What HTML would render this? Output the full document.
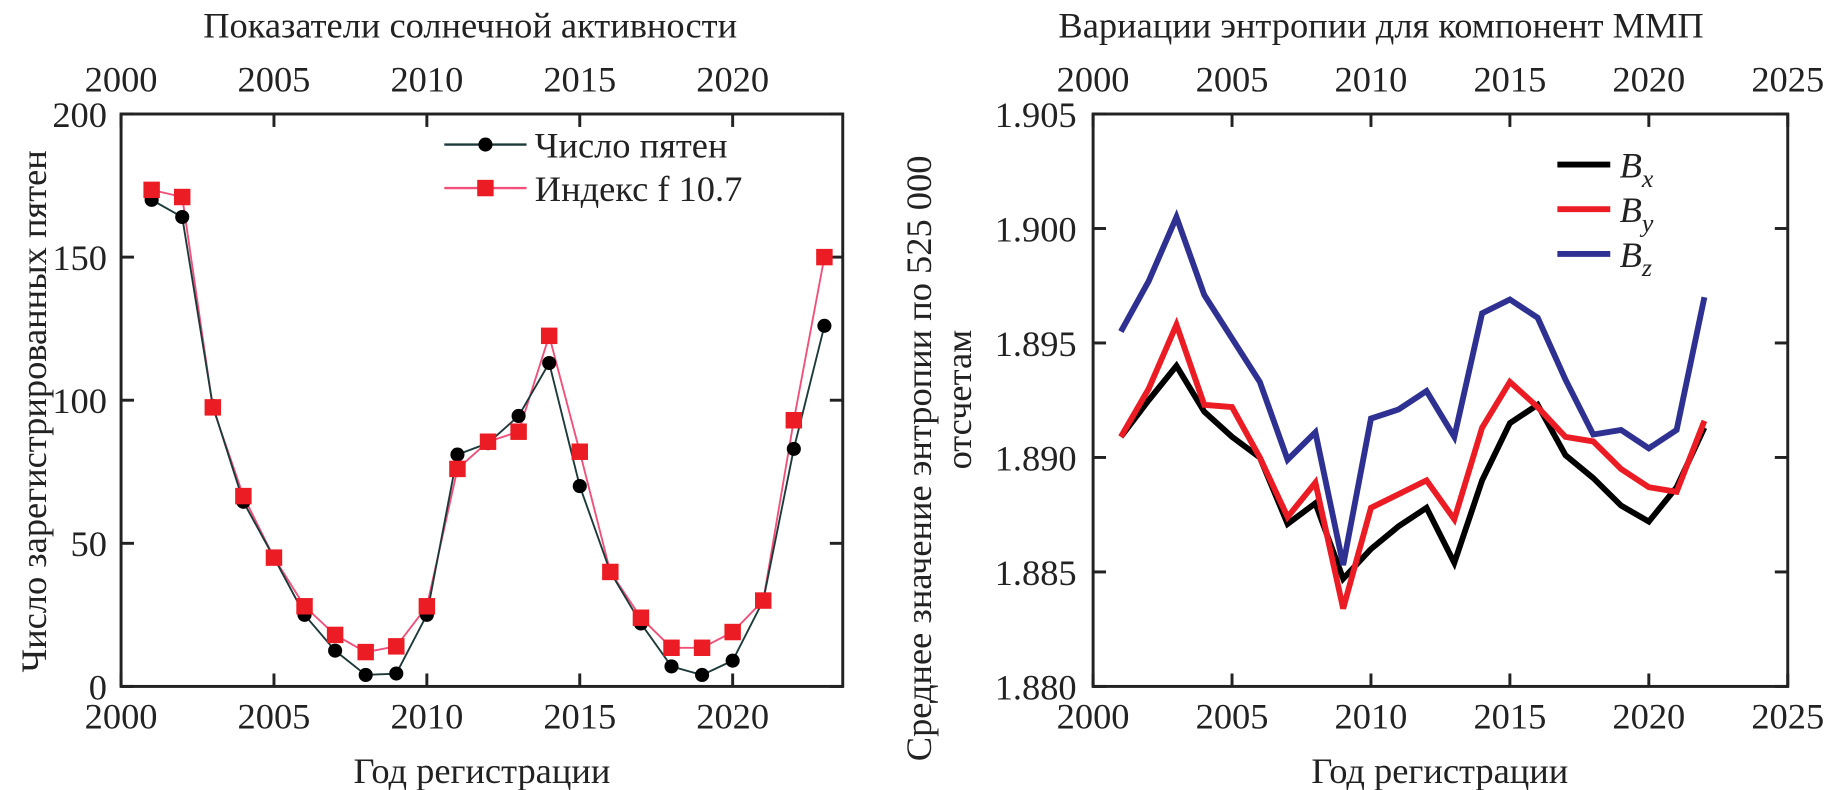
<!DOCTYPE html>
<html><head><meta charset="utf-8">
<style>
html,body{margin:0;padding:0;background:#fff;}
svg{display:block;font-family:"Liberation Serif",serif;}
</style></head>
<body>
<svg id="chart" width="1843" height="790" viewBox="0 0 1843 790" xmlns="http://www.w3.org/2000/svg">
<g transform="scale(1.17538)">
<g id="left"></g>
<g id="right"></g>
</g>
</svg>
<script>
// ---- Left chart data ----
const years1 = [2001,2002,2003,2004,2005,2006,2007,2008,2009,2010,2011,2012,2013,2014,2015,2016,2017,2018,2019,2020,2021,2022,2023];
const sunspots = [170,164,98,64.5,45,25,12.5,4,4.5,25,81,85,94.5,113,70,40,22,7,4,9,30,83,126];
const f107 = [173.5,171,97.5,66.5,45,28,18,12,14,28,76,85.5,89,122.5,82,40,24,13.5,13.5,19,30,93,150];
const xTicks1 = [2000,2005,2010,2015,2020];
const yTicks1 = [0,50,100,150,200];
// ---- Right chart data ----
const years2 = [2001,2002,2003,2004,2005,2006,2007,2008,2009,2010,2011,2012,2013,2014,2015,2016,2017,2018,2019,2020,2021,2022];
const bx = [1.8909,1.8925,1.8940,1.8920,1.8909,1.8900,1.8871,1.8880,1.8847,1.8860,1.8870,1.8878,1.8854,1.8890,1.8915,1.8923,1.8901,1.8891,1.8879,1.8872,1.8887,1.8913];
const by = [1.8909,1.8930,1.8958,1.8923,1.8922,1.8900,1.8874,1.8889,1.8834,1.8878,1.8884,1.8890,1.8873,1.8913,1.8933,1.8922,1.8909,1.8907,1.8895,1.8887,1.8885,1.8916];
const bz = [1.8955,1.8977,1.9005,1.8971,1.8952,1.8933,1.8899,1.8911,1.8853,1.8917,1.8921,1.8929,1.8909,1.8963,1.8969,1.8961,1.8934,1.8910,1.8912,1.8904,1.8912,1.8970];
const xTicks2 = [2000,2005,2010,2015,2020,2025];
const yTicks2 = [1.880,1.885,1.890,1.895,1.900,1.905];
const yTickLabels2 = ["1.880","1.885","1.890","1.895","1.900","1.905"];

const NS="http://www.w3.org/2000/svg";
function mk(parent, tag, attrs, text){
  const e=document.createElementNS(NS,tag);
  for(const k in attrs) e.setAttribute(k,attrs[k]);
  if(text!==undefined) e.textContent=text;
  parent.appendChild(e); return e;
}
function axisFn(d0,d1,r0,r1){return v=>r0+(v-d0)/(d1-d0)*(r1-r0);}

// ================= LEFT =================
const L=document.getElementById('left');
const P1={l:103,r:717,t:97,b:584};
const x1=axisFn(2000,2023.6,P1.l,P1.r), y1=axisFn(0,200,P1.b,P1.t);
let e;
e=mk(L,'rect',{x:P1.l,y:P1.t,width:P1.r-P1.l,height:P1.b-P1.t,fill:'none',stroke:'#222','stroke-width':2.5});
 
xTicks1.forEach(v=>{
  const X=x1(v);
  e=mk(L,'line',{x1:X,x2:X,y1:P1.b,y2:P1.b-11,stroke:'#222','stroke-width':2.5});
   
  e=mk(L,'line',{x1:X,x2:X,y1:P1.t,y2:P1.t+11,stroke:'#222','stroke-width':2.5});
   
  e=mk(L,'text',{x:X,y:P1.b+36,'font-size':31,'text-anchor':'middle',fill:'#222'},String(v));
   
  e=mk(L,'text',{x:X,y:P1.t-19,'font-size':31,'text-anchor':'middle',fill:'#222'},String(v));
   
});
yTicks1.forEach(v=>{
  const Y=y1(v);
  e=mk(L,'line',{x1:P1.l,x2:P1.l+11,y1:Y,y2:Y,stroke:'#222','stroke-width':2.5});
   
  e=mk(L,'line',{x1:P1.r,x2:P1.r-11,y1:Y,y2:Y,stroke:'#222','stroke-width':2.5});
   
  e=mk(L,'text',{x:P1.l-12,y:Y+11,'font-size':31,'text-anchor':'end',fill:'#222'},String(v));
   
});
e=mk(L,'text',{x:400,y:32,'font-size':31,'text-anchor':'middle',fill:'#222'},'Показатели солнечной активности');
 
e=mk(L,'text',{x:410,y:666,'font-size':31,'text-anchor':'middle',fill:'#222'},'Год регистрации');
 
e=mk(L,'text',{x:0,y:0,'font-size':31,'text-anchor':'middle',fill:'#222',transform:'translate(39,350) rotate(-90)'},'Число зарегистрированных пятен');
 

function pts(xs,ys,fx,fy){return xs.map((v,i)=>fx(v)+','+fy(ys[i])).join(' ');}
e=mk(L,'polyline',{points:pts(years1,f107,x1,y1),fill:'none',stroke:'#f0507a','stroke-width':1.6});
 
e=mk(L,'polyline',{points:pts(years1,sunspots,x1,y1),fill:'none',stroke:'#1d3a3a','stroke-width':1.6});
 
years1.forEach((v,i)=>{
  e=mk(L,'circle',{cx:x1(v),cy:y1(sunspots[i]),r:6,fill:'#000'});
   
});
years1.forEach((v,i)=>{
  e=mk(L,'rect',{x:x1(v)-7,y:y1(f107[i])-7,width:14,height:14,fill:'#ec1c24'});
   
});
// legend
e=mk(L,'line',{x1:378,x2:448,y1:123,y2:123,stroke:'#1d3a3a','stroke-width':2});
 
e=mk(L,'circle',{cx:413,cy:123,r:6,fill:'#000'});
 
e=mk(L,'text',{x:455,y:134,'font-size':31,fill:'#222'},'Число пятен');
 
e=mk(L,'line',{x1:378,x2:448,y1:160,y2:160,stroke:'#f0507a','stroke-width':2});
 
e=mk(L,'rect',{x:406,y:153,width:14,height:14,fill:'#ec1c24'});
 
e=mk(L,'text',{x:455,y:171,'font-size':31,fill:'#222'},'Индекс f 10.7');
 

// ================= RIGHT =================
const R=document.getElementById('right');
const P2={l:930,r:1521,t:97,b:584};
const x2=axisFn(2000,2025,P2.l,P2.r), y2=axisFn(1.880,1.905,P2.b,P2.t);
e=mk(R,'rect',{x:P2.l,y:P2.t,width:P2.r-P2.l,height:P2.b-P2.t,fill:'none',stroke:'#222','stroke-width':2.5});
 
xTicks2.forEach(v=>{
  const X=x2(v);
  e=mk(R,'line',{x1:X,x2:X,y1:P2.b,y2:P2.b-11,stroke:'#222','stroke-width':2.5});
   
  e=mk(R,'line',{x1:X,x2:X,y1:P2.t,y2:P2.t+11,stroke:'#222','stroke-width':2.5});
   
  e=mk(R,'text',{x:X,y:P2.b+36,'font-size':31,'text-anchor':'middle',fill:'#222'},String(v));
   
  e=mk(R,'text',{x:X,y:P2.t-19,'font-size':31,'text-anchor':'middle',fill:'#222'},String(v));
   
});
yTicks2.forEach((v,i)=>{
  const Y=y2(v);
  e=mk(R,'line',{x1:P2.l,x2:P2.l+11,y1:Y,y2:Y,stroke:'#222','stroke-width':2.5});
   
  e=mk(R,'line',{x1:P2.r,x2:P2.r-11,y1:Y,y2:Y,stroke:'#222','stroke-width':2.5});
   
  e=mk(R,'text',{x:P2.l-14,y:Y+11,'font-size':31,'text-anchor':'end',fill:'#222'},yTickLabels2[i]);
   
});
e=mk(R,'text',{x:1175,y:32,'font-size':31,'text-anchor':'middle',fill:'#222'},'Вариации энтропии для компонент ММП');
 
e=mk(R,'text',{x:1225,y:666,'font-size':31,'text-anchor':'middle',fill:'#222'},'Год регистрации');
 
e=mk(R,'text',{x:0,y:0,'font-size':31,'text-anchor':'middle',fill:'#222',transform:'translate(792,390) rotate(-90)'},'Среднее значение энтропии по 525 000');
 
e=mk(R,'text',{x:0,y:0,'font-size':31,'text-anchor':'middle',fill:'#222',transform:'translate(826,340) rotate(-90)'},'отсчетам');
 

e=mk(R,'polyline',{points:pts(years2,bx,x2,y2),fill:'none',stroke:'#000','stroke-width':5,'stroke-linejoin':'miter'});
 
e=mk(R,'polyline',{points:pts(years2,by,x2,y2),fill:'none',stroke:'#ec1c24','stroke-width':5,'stroke-linejoin':'miter'});
 
e=mk(R,'polyline',{points:pts(years2,bz,x2,y2),fill:'none',stroke:'#2e3192','stroke-width':5,'stroke-linejoin':'miter'});
 

const leg=[['#000','x',140,'legend-bx'],['#ec1c24','y',178,'legend-by'],['#2e3192','z',216,'legend-bz']];
leg.forEach(l=>{
  e=mk(R,'line',{x1:1325,x2:1370,y1:l[2],y2:l[2],stroke:l[0],'stroke-width':5});
   
  const t=mk(R,'text',{x:1378,y:l[2]+11,'font-size':31,'font-style':'italic',fill:'#222'});
   
  mk(t,'tspan',{},'B');
  mk(t,'tspan',{'font-size':22,dy:8},l[1]);
});
</script>
</body></html>
